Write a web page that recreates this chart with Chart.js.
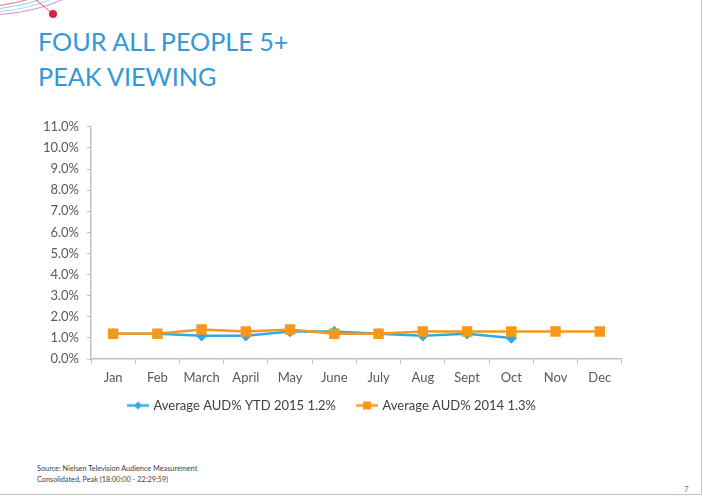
<!DOCTYPE html>
<html>
<head>
<meta charset="utf-8">
<script src="https://cdn.jsdelivr.net/npm/chart.js@4"></script>
<style>
  body { margin: 0; background: #fff; width: 703px; height: 496px; position: relative; overflow: hidden; font-family: Lato, "Open Sans", sans-serif; }
  #frame { position: absolute; left: 0; top: 0; width: 701px; height: 494px; border-right: 1px solid #c4c4c4; border-bottom: 1px solid #c4c4c4; }
  #deco { position: absolute; left: 0; top: 0; }
  .title { position: absolute; left: 38px; color: #3399d8; font-size: 25.2px; white-space: nowrap; }
  #chartBox { position: absolute; left: 30px; top: 111px; width: 600px; height: 311px; }
  .src { position: absolute; left: 37px; font-size: 7.3px; color: #404040; white-space: nowrap; }
  #page { position: absolute; left: 684px; top: 484px; font-size: 8px; color: #3399d8; }
</style>
</head>
<body>
<div id="frame"></div>
<svg id="deco" width="120" height="30">
  <path d="M0,5.5 Q16,3 30,-1" stroke="#e8707c" stroke-width="1" fill="none"/>
  <path d="M0,8.5 Q22,6 42,-1" stroke="#8fcdf0" stroke-width="1" fill="none"/>
  <path d="M0,11.5 Q28,9 52,-1" stroke="#a8d8f4" stroke-width="1" fill="none"/>
  <path d="M0,14.5 Q35,12 64,-1" stroke="#d58ad8" stroke-width="1" fill="none"/>
  <path d="M36,0 L53,14" stroke="#d9304a" stroke-width="0.8" fill="none"/>
  <circle cx="53" cy="14" r="4" fill="#d7263f"/>
</svg>
<div class="title" style="top:26px">FOUR ALL PEOPLE 5+</div>
<div class="title" style="top:61px">PEAK VIEWING</div>
<div id="chartBox"><canvas id="chart"></canvas></div>
<div class="src" style="top:464px">Source: Nielsen Television Audience Measurement</div>
<div class="src" style="top:475px">Consolidated, Peak (18:00:00 - 22:29:59)</div>
<div id="page">7</div>
<script>
// months along the x axis
var months = ["Jan", "Feb", "March", "April", "May", "June", "July", "Aug", "Sept", "Oct", "Nov", "Dec"];

// AUD% per month
var ytd2015 = [1.2, 1.2, 1.1, 1.1, 1.3, 1.3, 1.2, 1.1, 1.2, 1.0, null, null];
var avg2014 = [1.2, 1.2, 1.4, 1.3, 1.4, 1.2, 1.2, 1.3, 1.3, 1.3, 1.3, 1.3];

var seriesNames = ["Average AUD% YTD 2015 1.2%", "Average AUD% 2014 1.3%"];
var yTicks = [0, 1, 2, 3, 4, 5, 6, 7, 8, 9, 10, 11];

var blue = "#2faae2";
var orange = "#f7981d";

// line+marker swatch for the legend, blank on the left to space the items
function swatch(color, shape) {
  var c = document.createElement("canvas");
  c.width = 34; c.height = 10;
  var ctx = c.getContext("2d");
  ctx.strokeStyle = color; ctx.fillStyle = color; ctx.lineWidth = 2.5;
  ctx.beginPath(); ctx.moveTo(12, 5); ctx.lineTo(34, 5); ctx.stroke();
  if (shape == "diamond") {
    ctx.beginPath(); ctx.moveTo(23, 1); ctx.lineTo(27, 5); ctx.lineTo(23, 9); ctx.lineTo(19, 5); ctx.closePath(); ctx.fill();
  } else {
    ctx.fillRect(19, 1, 8, 8);
  }
  return c;
}
var swatches = [swatch(blue, "diamond"), swatch(orange, "square")];

var chart = new Chart("chart", {
  type: "line",
  data: {
    labels: months,
    datasets: [
      {
        label: seriesNames[0],
        data: ytd2015,
        borderColor: blue,
        backgroundColor: blue,
        borderWidth: 2.5,
        pointStyle: "rectRot",
        pointRadius: 4,
        order: 1
      },
      {
        label: seriesNames[1],
        data: avg2014,
        borderColor: orange,
        backgroundColor: orange,
        borderWidth: 2.5,
        pointStyle: "rect",
        pointRadius: 5.6,
        order: 0
      }
    ]
  },
  options: {
    responsive: true,
    maintainAspectRatio: false,
    animation: false,
    layout: { padding: { top: 2, right: 7, left: 0, bottom: 0 } },
    plugins: {
      tooltip: { enabled: false },
      legend: {
        display: true,
        position: "bottom",
        labels: {
          usePointStyle: true,
          pointStyleWidth: 30,
          padding: 10,
          color: "#404040",
          font: { family: "Lato", size: 13 },
          generateLabels: function(ch) {
            return seriesNames.map(function(name, i) {
              return { text: name, datasetIndex: i, pointStyle: swatches[i], fontColor: "#404040", lineWidth: 0, strokeStyle: "transparent", fillStyle: "transparent" };
            });
          }
        }
      }
    },
    scales: {
      x: {
        offset: true,
        grid: { offset: true, drawOnChartArea: false, color: "#bfbfbf", tickLength: 5 },
        border: { color: "#bfbfbf", width: 1.5 },
        ticks: { color: "#595959", font: { family: "Lato", size: 13 }, padding: 6, maxRotation: 0, autoSkip: false },
        afterFit: function(s) { s.height = 30; }
      },
      y: {
        min: 0,
        max: 11,
        afterBuildTicks: function(s) { s.ticks = yTicks.map(function(v) { return { value: v }; }); },
        grid: { drawOnChartArea: false, color: "#bfbfbf", tickLength: 4 },
        border: { color: "#bfbfbf", width: 1.5 },
        ticks: {
          color: "#595959",
          font: { family: "Lato", size: 13 },
          padding: 8,
          callback: function(v) { return v.toFixed(1) + "%"; }
        },
        afterFit: function(s) { s.width = 61; }
      }
    }
  }
});
</script>
</body>
</html>
